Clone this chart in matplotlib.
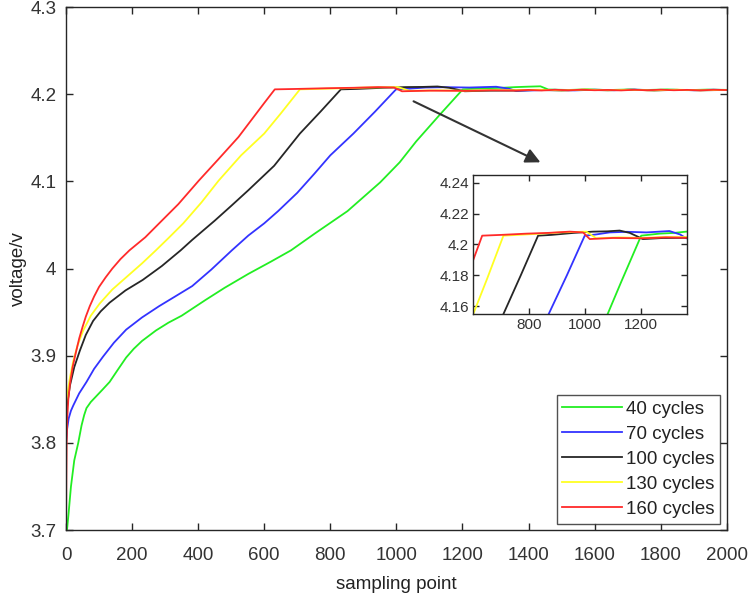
import matplotlib
matplotlib.use("Agg")
import matplotlib.pyplot as plt
import numpy as np

plt.rcParams['font.family'] = ['Liberation Sans', 'DejaVu Sans']

labels = ['40 cycles', '70 cycles', '100 cycles', '130 cycles', '160 cycles']
colors = ['#22ee22', '#3333ff', '#262626', '#ffff22', '#ff2a2a']

green_x = [3, 8, 15, 25, 37, 47, 55, 62, 75, 90, 110, 132, 155, 182, 205, 230, 272, 310, 350, 422,
           480, 552, 620, 681, 752, 852, 951, 1010, 1060, 1130, 1201, 1266, 1320, 1362, 1400, 1436,
           1460, 1520, 1580, 1640, 1700, 1760, 1820, 1880, 1940, 2000]
green_v = [3.70, 3.72, 3.75, 3.78, 3.80, 3.82, 3.832, 3.840, 3.847, 3.853, 3.861, 3.870, 3.883,
           3.898, 3.908, 3.917, 3.929, 3.938, 3.946, 3.964, 3.978, 3.994, 4.008, 4.021, 4.040,
           4.066, 4.099, 4.122, 4.146, 4.176, 4.2057, 4.2070, 4.2075, 4.2083, 4.2088, 4.2092,
           4.2055, 4.2050, 4.2057, 4.2049, 4.2055, 4.2050, 4.2056, 4.2048, 4.2054, 4.2051]

blue_x = [0, 3, 8, 15, 22, 40, 62, 85, 112, 145, 182, 230, 282, 330, 382, 440, 502, 552, 600, 642,
          700, 752, 800, 870, 935, 999, 1040, 1088, 1150, 1220, 1302, 1340, 1362, 1420, 1480, 1540,
          1600, 1660, 1720, 1780, 1840, 1900, 1960, 2000]
blue_v = [3.80, 3.815, 3.828, 3.837, 3.843, 3.857, 3.870, 3.885, 3.899, 3.915, 3.930, 3.944, 3.957,
          3.968, 3.980, 3.999, 4.021, 4.038, 4.052, 4.066, 4.087, 4.109, 4.130, 4.155, 4.180,
          4.2057, 4.2065, 4.2078, 4.2082, 4.2078, 4.2087, 4.2065, 4.2040, 4.2046, 4.2052, 4.2045,
          4.2053, 4.2047, 4.2054, 4.2046, 4.2052, 4.2047, 4.2053, 4.2049]

black_x = [0, 4, 12, 25, 42, 60, 82, 105, 132, 180, 232, 290, 347, 382, 450, 500, 552, 630, 708,
           770, 832, 880, 960, 1028, 1080, 1124, 1160, 1207, 1280, 1362, 1430, 1500, 1570, 1640,
           1710, 1780, 1850, 1920, 2000]
black_v = [3.83, 3.845, 3.866, 3.887, 3.906, 3.924, 3.940, 3.951, 3.961, 3.975, 3.987, 4.003,
           4.021, 4.033, 4.055, 4.072, 4.090, 4.118, 4.155, 4.180, 4.2057, 4.2062, 4.2075, 4.2083,
           4.2085, 4.2090, 4.2075, 4.2035, 4.2042, 4.2043, 4.2050, 4.2044, 4.2052, 4.2046, 4.2053,
           4.2045, 4.2051, 4.2046, 4.2050]

yellow_x = [0, 5, 12, 22, 35, 52, 75, 102, 140, 182, 230, 272, 310, 355, 410, 462, 530, 600, 650,
            708, 760, 840, 909, 1005, 1040, 1120, 1200, 1280, 1362, 1430, 1500, 1570, 1640, 1710,
            1780, 1850, 1920, 2000]
yellow_v = [3.845, 3.858, 3.875, 3.894, 3.912, 3.929, 3.946, 3.960, 3.976, 3.990, 4.006, 4.021,
            4.035, 4.052, 4.076, 4.101, 4.130, 4.155, 4.178, 4.2057, 4.2062, 4.2070, 4.2078,
            4.2083, 4.2040, 4.2046, 4.2042, 4.2048, 4.2048, 4.2053, 4.2046, 4.2054, 4.2047,
            4.2052, 4.2045, 4.2053, 4.2047, 4.2050]

red_x = [0, 1, 2, 4, 7, 12, 20, 30, 40, 50, 60, 72, 85, 100, 120, 140, 165, 192, 240, 282, 340, 402,
         460, 522, 580, 600, 632, 700, 790, 870, 945, 993, 1017, 1100, 1207, 1290, 1362, 1400, 1440,
         1480, 1520, 1560, 1600, 1640, 1680, 1720, 1760, 1800, 1840, 1880, 1920, 1960, 2000]
red_v = [3.70, 3.76, 3.80, 3.83, 3.85, 3.868, 3.887, 3.904, 3.920, 3.933, 3.945, 3.957, 3.968,
         3.979, 3.990, 4.000, 4.011, 4.021, 4.036, 4.052, 4.074, 4.101, 4.125, 4.151, 4.180, 4.190,
         4.2057, 4.2062, 4.2070, 4.2075, 4.2083, 4.2078, 4.2035, 4.2042, 4.2040, 4.2046, 4.2043,
         4.2050, 4.2044, 4.2052, 4.2046, 4.2053, 4.2047, 4.2050, 4.2045, 4.2052, 4.2046, 4.2053,
         4.2047, 4.2051, 4.2045, 4.2052, 4.2049]

series_x = [green_x, blue_x, black_x, yellow_x, red_x]
series_v = [green_v, blue_v, black_v, yellow_v, red_v]

main_xticks = [0, 200, 400, 600, 800, 1000, 1200, 1400, 1600, 1800, 2000]
main_yticks = [3.7, 3.8, 3.9, 4.0, 4.1, 4.2, 4.3]
main_ylabels = ['3.7', '3.8', '3.9', '4', '4.1', '4.2', '4.3']
inset_xticks = [800, 1000, 1200]
inset_yticks = [4.16, 4.18, 4.20, 4.22, 4.24]
inset_ylabels = ['4.16', '4.18', '4.2', '4.22', '4.24']

axis_col = '#262626'
text_col = '#333333'

fig = plt.figure(figsize=(7.5, 5.97), dpi=100)
ax = fig.add_axes([0.088, 0.112, 0.881, 0.876])

for xs, vs, c, lab in zip(series_x, series_v, colors, labels):
    ax.plot(xs, vs, color=c, lw=1.3, label=lab)

ax.set_xlim(0, 2000)
ax.set_ylim(3.7, 4.3)
ax.set_xticks(main_xticks)
ax.set_yticks(main_yticks)
ax.set_yticklabels(main_ylabels)
ax.tick_params(axis='both', direction='in', top=True, right=True, length=5, width=1.0,
               labelsize=13.5, colors=axis_col, labelcolor=text_col)
ax.tick_params(axis='x', pad=12)
ax.tick_params(axis='y', pad=7)
for s in ax.spines.values():
    s.set_color(axis_col)
    s.set_linewidth(1.0)
ax.set_xlabel('sampling point', fontsize=13.5, color='#222222', labelpad=9)
ax.set_ylabel('voltage/v', fontsize=13.5, color='#222222', labelpad=2)

leg = ax.legend(loc='lower right', fontsize=13.5, frameon=True, fancybox=False,
                edgecolor=axis_col, handlelength=3.2, handletextpad=0.2,
                borderpad=0.3, labelspacing=0.42, borderaxespad=0.35)
leg.get_frame().set_linewidth(1.0)
for t in leg.get_texts():
    t.set_color('#222222')

ax.annotate('', xy=(1436, 4.122), xytext=(1052, 4.192),
            arrowprops=dict(arrowstyle='-|>', color='#333333', lw=1.5,
                            mutation_scale=22, shrinkA=0, shrinkB=0))

ins = fig.add_axes([0.631, 0.474, 0.285, 0.233])
for xs, vs, c in zip(series_x, series_v, colors):
    ins.plot(xs, vs, color=c, lw=1.3)
ins.set_xlim(600, 1365)
ins.set_ylim(4.155, 4.245)
ins.set_xticks(inset_xticks)
ins.set_yticks(inset_yticks)
ins.set_yticklabels(inset_ylabels)
ins.tick_params(direction='in', top=True, right=True, length=4, width=1.0,
                labelsize=11, colors=axis_col, labelcolor=text_col, pad=3)
for s in ins.spines.values():
    s.set_color(axis_col)
    s.set_linewidth(1.0)

fig.savefig('out.png', dpi=100)
